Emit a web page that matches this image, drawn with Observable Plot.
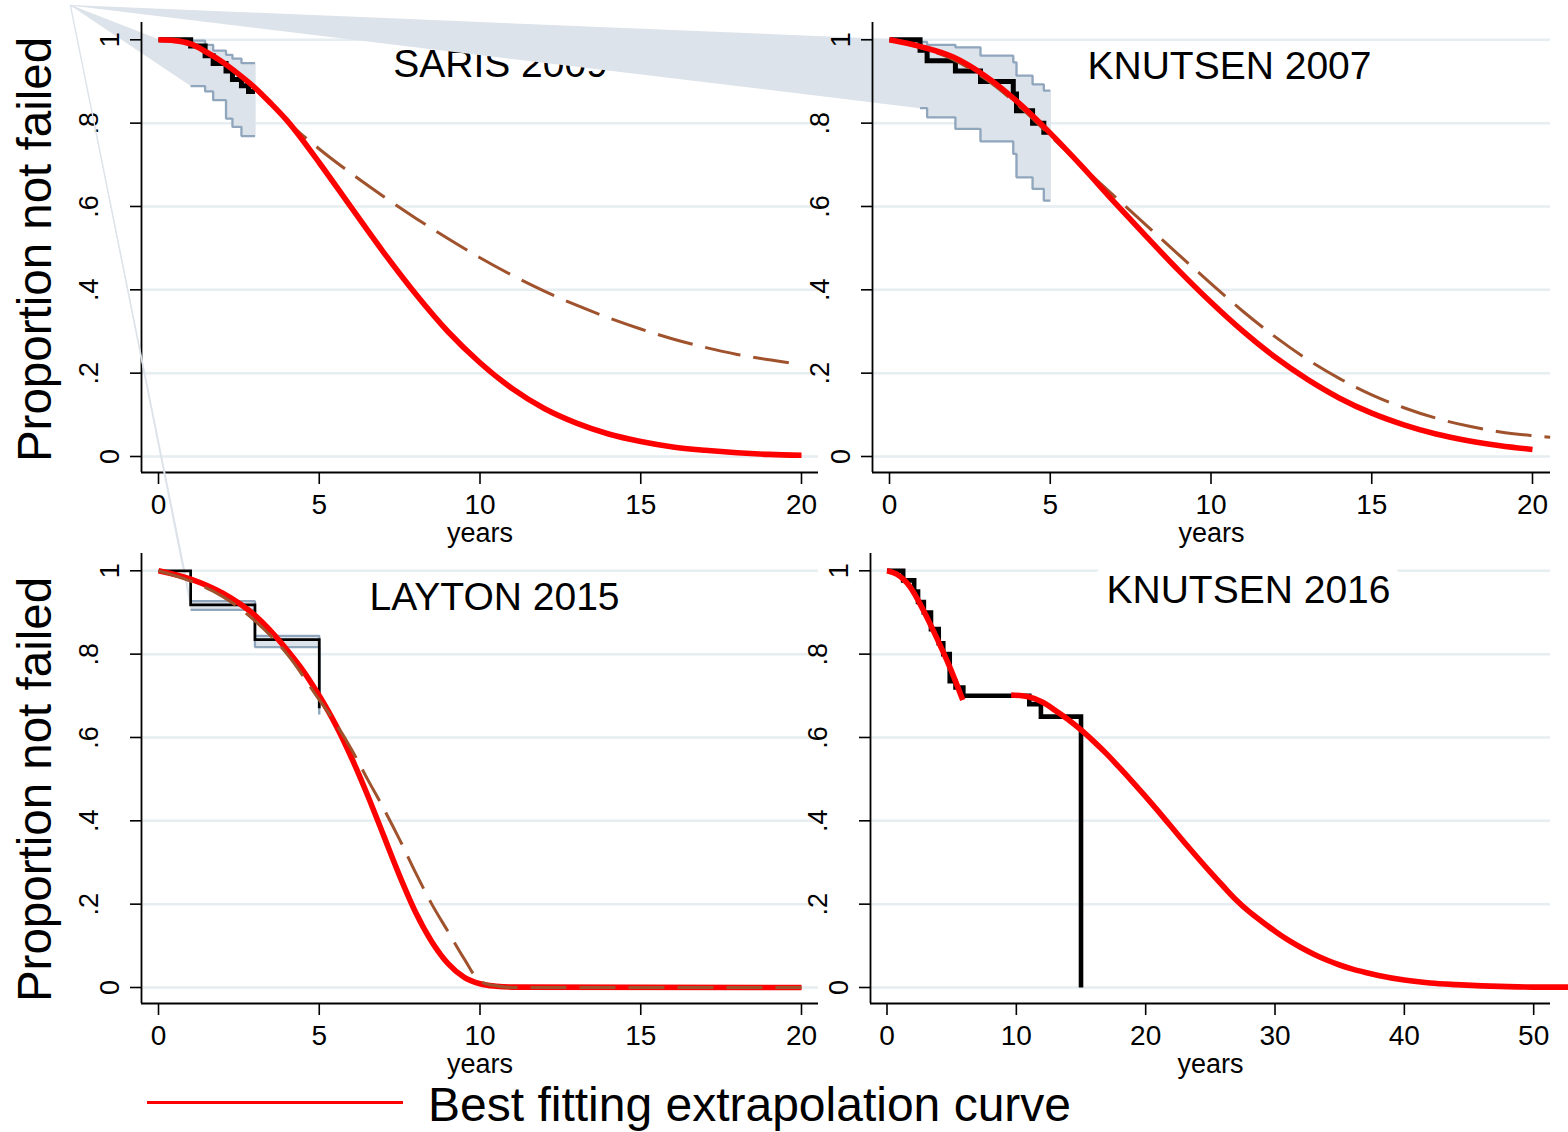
<!DOCTYPE html>
<html><head><meta charset="utf-8">
<script src="https://cdn.jsdelivr.net/npm/d3@7"></script>
<script src="https://cdn.jsdelivr.net/npm/@observablehq/plot@0.6"></script>
<style>
html,body{margin:0;padding:0;background:#fff;}
#root{position:relative;width:1568px;height:1132px;overflow:hidden;background:#fff;font-family:"Liberation Sans",Arial,Helvetica,sans-serif;}
#root svg{position:absolute;overflow:visible;}
.legline{position:absolute;background:#ff0000;}
.legtext{position:absolute;font-size:48px;line-height:48px;white-space:nowrap;color:#000;}
</style></head><body><div id="root"></div>
<script>
// ---------- shared labels ----------
const yTicks = [0, 0.2, 0.4, 0.6, 0.8, 1];
const yTickLabels = ["0", ".2", ".4", ".6", ".8", "1"];
const xTicks20 = [0, 5, 10, 15, 20];
const xTicks50 = [0, 10, 20, 30, 40, 50];
const yTitle = "Proportion not failed";
const xTitle = "years";
const legendLabel = "Best fitting extrapolation curve";
const panelTitles = ["SARIS 2009", "KNUTSEN 2007", "LAYTON 2015", "KNUTSEN 2016"];

// ---------- SARIS 2009 ----------
const sarisKmTime = [0, 1.0, 1.45, 1.7, 2.1, 2.3, 2.58, 2.8, 3.0];
const sarisKmSurv = [1, 0.985, 0.962, 0.943, 0.925, 0.905, 0.89, 0.876, 0.876];
const sarisUpperTime = [0, 1.0, 1.45, 1.7, 2.1, 2.3, 2.58, 3.0];
const sarisUpper = [1, 0.998, 0.988, 0.974, 0.964, 0.955, 0.944, 0.944];
const sarisLowerTime = [1.0, 1.45, 1.7, 2.1, 2.3, 2.58, 3.0];
const sarisLower = [0.889, 0.876, 0.855, 0.811, 0.791, 0.769, 0.769];
const sarisStray = [-2.74, 1.082];
const sarisFitTime = [0, 0.5, 1, 1.5, 2, 2.5, 3, 3.5, 4, 5, 6, 7, 8, 9, 10, 11, 12, 13, 14, 15, 16, 17, 18, 19, 20];
const sarisFitRed = [1, 0.998, 0.99, 0.97, 0.946, 0.917, 0.885, 0.847, 0.806, 0.705, 0.597, 0.49, 0.39, 0.30, 0.225, 0.163, 0.115, 0.08, 0.054, 0.036, 0.023, 0.015, 0.009, 0.005, 0.003];
const sarisAltTime = [0, 1, 2, 3, 3.5, 4, 5, 6, 7, 8, 9, 10, 11, 12, 13, 14, 15, 16, 17, 18, 19, 20];
const sarisAltBrown = [1, 0.99, 0.946, 0.885, 0.847, 0.805, 0.738, 0.679, 0.624, 0.572, 0.523, 0.477, 0.435, 0.397, 0.363, 0.333, 0.306, 0.282, 0.262, 0.245, 0.232, 0.221];

// ---------- KNUTSEN 2007 ----------
const k07KmTime = [0, 0.95, 1.17, 2.05, 2.83, 3.85, 3.95, 4.45, 4.8, 5.0];
const k07KmSurv = [1, 0.975, 0.95, 0.925, 0.90, 0.87, 0.83, 0.80, 0.778, 0.778];
const k07UpperTime = [0, 0.95, 1.17, 2.05, 2.83, 3.85, 3.95, 4.45, 4.8, 5.0];
const k07Upper = [1, 0.995, 0.988, 0.982, 0.962, 0.946, 0.914, 0.893, 0.878, 0.878];
const k07LowerTime = [0.95, 1.17, 2.05, 2.83, 3.85, 3.95, 4.45, 4.8, 5.0];
const k07Lower = [0.836, 0.814, 0.786, 0.756, 0.726, 0.67, 0.642, 0.614, 0.614];
const k07Stray = [-25.47, 1.082];
const k07FitTime = [0, 1, 2, 3, 4, 5, 6, 7, 8, 9, 10, 11, 12, 13, 14, 15, 16, 17, 18, 19, 20];
const k07FitRed = [1, 0.983, 0.958, 0.912, 0.85, 0.776, 0.695, 0.61, 0.527, 0.446, 0.37, 0.30, 0.238, 0.185, 0.14, 0.104, 0.076, 0.054, 0.038, 0.026, 0.017];
const k07AltTime = [0, 1, 2, 3, 4, 5, 6, 7, 8, 9, 10, 11, 12, 13, 14, 15, 16, 17, 18, 19, 20, 20.55];
const k07AltBrown = [1, 0.98, 0.952, 0.905, 0.843, 0.77, 0.695, 0.624, 0.554, 0.484, 0.415, 0.348, 0.287, 0.233, 0.187, 0.148, 0.117, 0.092, 0.073, 0.059, 0.05, 0.046];

// ---------- LAYTON 2015 ----------
const laytonKmTime = [0, 1, 3, 5];
const laytonKmSurv = [1, 0.918, 0.835, 0.67];
const laytonUpperTime = [1, 3, 5];
const laytonUpper = [0.927, 0.844, 0.69];
const laytonLowerTime = [1, 3, 5];
const laytonLower = [0.906, 0.817, 0.655];
const laytonStray = [-2.74, 2.357];
const laytonFitTime = [0, 1, 2, 3, 4, 4.5, 5, 5.5, 6, 6.5, 7, 7.5, 8, 8.5, 9, 9.5, 10, 10.5, 11, 20];
const laytonFitRed = [1, 0.98, 0.946, 0.893, 0.81, 0.76, 0.70, 0.632, 0.552, 0.462, 0.365, 0.268, 0.18, 0.11, 0.058, 0.025, 0.009, 0.003, 0.001, 0];
const laytonAltTime = [0, 1, 2, 3, 4, 5, 5.5, 6, 6.5, 7, 7.5, 8, 8.5, 9, 9.5, 10, 10.5, 11, 20];
const laytonAltBrown = [1, 0.975, 0.938, 0.88, 0.80, 0.69, 0.635, 0.572, 0.50, 0.43, 0.355, 0.275, 0.20, 0.135, 0.07, 0.015, 0.004, 0, 0];

// ---------- KNUTSEN 2016 ----------
const k16KmTime = [0, 1.25, 2.1, 2.4, 2.85, 3.4, 4.0, 4.35, 4.85, 5.3, 5.9, 11.0, 11.9, 15.0];
const k16KmSurv = [1, 0.977, 0.95, 0.925, 0.90, 0.86, 0.826, 0.80, 0.735, 0.72, 0.70, 0.68, 0.65, 0];
const k16FitTime1 = [0, 0.75, 1.77, 2.8, 3.8, 4.84, 5.86];
const k16FitRed1 = [1, 0.992, 0.962, 0.906, 0.842, 0.77, 0.69];
const k16FitTime2 = [9.6, 11, 12, 13, 14, 15, 16, 17, 18, 19, 20, 21, 22, 23, 24, 25, 26, 27, 28, 29, 30, 31, 32, 33, 34, 35, 36, 37, 38, 40, 42, 44, 46, 48, 50, 53];
const k16FitRed2 = [0.702, 0.697, 0.685, 0.665, 0.643, 0.618, 0.59, 0.56, 0.527, 0.493, 0.458, 0.422, 0.385, 0.348, 0.312, 0.277, 0.243, 0.21, 0.182, 0.158, 0.135, 0.114, 0.096, 0.08, 0.066, 0.054, 0.044, 0.036, 0.029, 0.018, 0.011, 0.007, 0.004, 0.002, 0.001, 0.001];

// ---------- styling ----------
const FONT = '"Liberation Sans", Arial, Helvetica, sans-serif';
const GRID = "#e6eef1";
const CI_FILL = "#dde3ea";
const CI_LINE = "#8fa6bd";
const RED = "#ff0000";
const BROWN = "#a0522d";
const Y_DOMAIN = [-0.0384, 1.0415];

function zipTS(times, values) { return times.map((t, i) => ({t, s: values[i]})); }
function stepVertices(times, values) {
  const pts = [];
  for (let i = 0; i < times.length; i++) {
    pts.push({t: times[i], s: values[i]});
    if (i < times.length - 1) pts.push({t: times[i + 1], s: values[i]});
  }
  return pts;
}
function bandPolygon(stray, upT, up, loT, lo) {
  return [{t: stray[0], s: stray[1]}, ...stepVertices(upT, up), ...stepVertices(loT, lo).reverse()];
}
const fmtY = d => yTickLabels[yTicks.indexOf(d)];

const root = document.getElementById("root");

function drawPanel(p) {
  const marks = [Plot.ruleY(yTicks, {stroke: GRID, strokeWidth: 2.5})];
  if (p.band) {
    marks.push(Plot.line(p.band, {x: "t", y: "s", fill: CI_FILL, stroke: CI_FILL, strokeWidth: 1.4, curve: "linear", strokeLinejoin: "miter"}));
    marks.push(Plot.line(p.upper, {x: "t", y: "s", stroke: CI_LINE, strokeWidth: 2.3, curve: "step-after", strokeLinejoin: "miter", strokeLinecap: "butt"}));
    marks.push(Plot.line(p.lower, {x: "t", y: "s", stroke: CI_LINE, strokeWidth: 2.3, curve: "step-after", strokeLinejoin: "miter", strokeLinecap: "butt"}));
  }
  marks.push(Plot.line(p.km, {x: "t", y: "s", stroke: "#000", strokeWidth: p.kmWidth, curve: "step-after", strokeLinejoin: "miter", strokeMiterlimit: 4, strokeLinecap: "butt"}));
  const brown = p.alt ? Plot.line(p.alt, {x: "t", y: "s", stroke: BROWN, strokeWidth: 3, strokeDasharray: "36,13", curve: "monotone-x", strokeLinecap: "butt"}) : null;
  if (brown && !p.brownOnTop) marks.push(brown);
  for (const r of p.red) marks.push(Plot.line(r, {x: "t", y: "s", stroke: RED, strokeWidth: 5.6, curve: "monotone-x", strokeLinecap: "butt"}));
  if (brown && p.brownOnTop) marks.push(brown);
  marks.push(
    Plot.ruleX([p.xDomain[0]], {stroke: "#000", strokeWidth: 1.8}),
    Plot.ruleY([Y_DOMAIN[0]], {stroke: "#000", strokeWidth: 1.8}),
    Plot.axisX({ticks: p.xTicks, tickFormat: d => String(d), tickSize: 12, tickPadding: 10, fontSize: 28, strokeWidth: 1.6, label: null}),
    Plot.axisY({ticks: [0, 1], tickFormat: fmtY, tickRotate: -90, tickSize: 11, tickPadding: 12, fontSize: 27, strokeWidth: 1.6, label: null}),
    Plot.axisY({ticks: [0.2, 0.4, 0.6, 0.8], tickFormat: fmtY, tickRotate: -90, tickSize: 11, tickPadding: 33, fontSize: 27, strokeWidth: 1.6, label: null}),
    Plot.text([xTitle], {text: d => d, frameAnchor: "bottom", dy: 69, fontSize: 27, lineAnchor: "bottom"})
  );
  if (p.yTitle) marks.push(Plot.text([yTitle], {text: d => d, frameAnchor: "left", dx: -91, dy: p.yTitleDy, rotate: -90, lineAnchor: "bottom", textAnchor: "middle", fontSize: 47.5}));
  const titleOpts = {text: d => d, frameAnchor: "top", dx: p.titleDx, dy: p.titleDy, fontSize: 39, lineAnchor: "bottom"};
  if (p.titleHalo) Object.assign(titleOpts, {stroke: "white", strokeWidth: 26, paintOrder: "stroke", strokeLinejoin: "round", fill: "#000"});
  marks.push(Plot.text([p.title], titleOpts));

  const svg = Plot.plot({
    width: p.width, height: p.height,
    marginLeft: p.mL, marginRight: p.mR, marginTop: p.mT, marginBottom: p.mB,
    x: {domain: p.xDomain, label: null},
    y: {domain: Y_DOMAIN, label: null},
    style: {overflow: "visible", background: "transparent", fontFamily: FONT, color: "#000"},
    marks
  });
  svg.style.position = "absolute";
  svg.style.left = p.left + "px";
  svg.style.top = p.top + "px";
  svg.style.maxWidth = "none";
  root.appendChild(svg);
}

const ROW2 = 531.4;

// top-left
drawPanel({
  left: 0, top: 0, width: 850, height: 560, mL: 141, mR: 32, mT: 22, mB: 88,
  xDomain: [-0.529, 20.529], xTicks: xTicks20, yTitle: true, yTitleDy: 2,
  title: panelTitles[0], titleDx: 20.5, titleDy: 54,
  band: bandPolygon(sarisStray, sarisUpperTime, sarisUpper, sarisLowerTime, sarisLower),
  upper: zipTS(sarisUpperTime, sarisUpper), lower: zipTS(sarisLowerTime, sarisLower),
  km: zipTS(sarisKmTime, sarisKmSurv), kmWidth: 5,
  red: [zipTS(sarisFitTime, sarisFitRed)], alt: zipTS(sarisAltTime, sarisAltBrown)
});
// bottom-left
drawPanel({
  left: 0, top: ROW2, width: 850, height: 560, mL: 141, mR: 32, mT: 22, mB: 88,
  xDomain: [-0.529, 20.529], xTicks: xTicks20, yTitle: true, yTitleDy: 11,
  title: panelTitles[2], titleDx: 14.5, titleDy: 56.6,
  band: bandPolygon(laytonStray, laytonUpperTime, laytonUpper, laytonLowerTime, laytonLower),
  upper: zipTS(laytonUpperTime, laytonUpper), lower: zipTS(laytonLowerTime, laytonLower),
  km: zipTS(laytonKmTime, laytonKmSurv), kmWidth: 2.7,
  red: [zipTS(laytonFitTime, laytonFitRed)], alt: zipTS(laytonAltTime, laytonAltBrown), brownOnTop: true
});
// bottom-right
drawPanel({
  left: 740, top: ROW2, width: 828, height: 560, mL: 130, mR: 18, mT: 22, mB: 88,
  xDomain: [-1.276, 51.3], xTicks: xTicks50, yTitle: false,
  title: panelTitles[3], titleDx: 38, titleDy: 49.6, titleHalo: true,
  km: zipTS(k16KmTime, k16KmSurv), kmWidth: 4.6,
  red: [zipTS(k16FitTime1, k16FitRed1), zipTS(k16FitTime2, k16FitRed2)]
});
// top-right (last, its stray band overlaps the top-left panel)
drawPanel({
  left: 740, top: 0, width: 828, height: 560, mL: 132, mR: 18, mT: 22, mB: 88,
  xDomain: [-0.529, 20.56], xTicks: xTicks20, yTitle: false,
  title: panelTitles[1], titleDx: 18, titleDy: 56,
  band: bandPolygon(k07Stray, k07UpperTime, k07Upper, k07LowerTime, k07Lower),
  upper: zipTS(k07UpperTime, k07Upper), lower: zipTS(k07LowerTime, k07Lower),
  km: zipTS(k07KmTime, k07KmSurv), kmWidth: 5,
  red: [zipTS(k07FitTime, k07FitRed)], alt: zipTS(k07AltTime, k07AltBrown)
});

// legend
const ll = document.createElement("div");
ll.className = "legline";
Object.assign(ll.style, {left: "147px", top: "1100.5px", width: "256px", height: "3px"});
root.appendChild(ll);
const lt = document.createElement("div");
lt.className = "legtext";
lt.textContent = legendLabel;
Object.assign(lt.style, {left: "428px", top: "1081px"});
root.appendChild(lt);
</script></body></html>
